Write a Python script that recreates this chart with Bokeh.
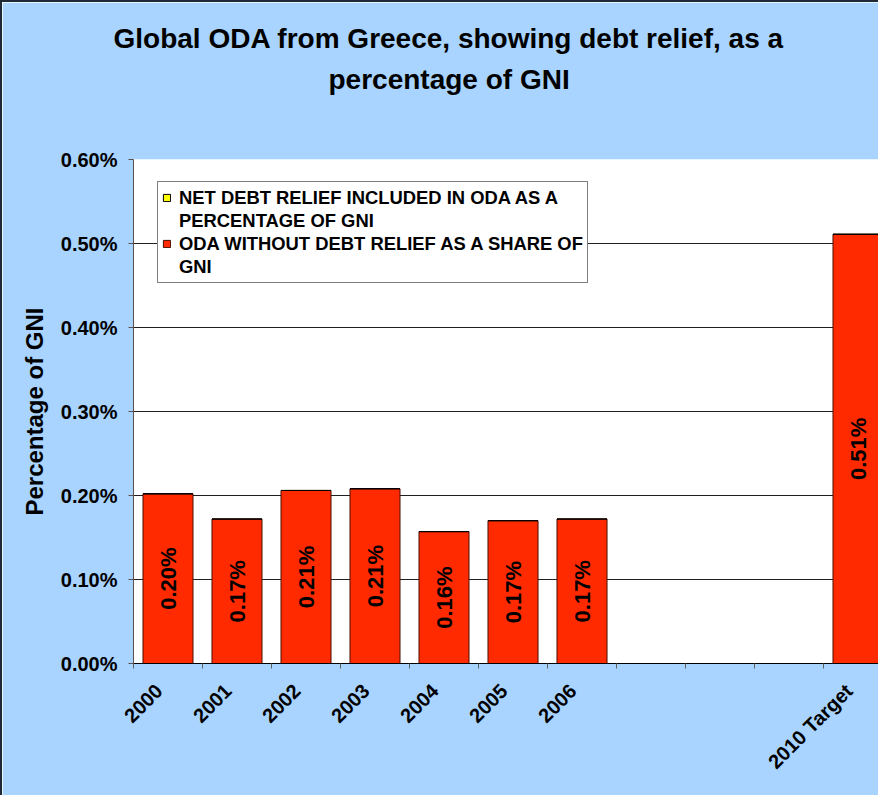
import math
from bokeh.plotting import figure
from bokeh.models import (ColumnDataSource, FixedTicker, Legend, LegendItem, Title,
                          PrintfTickFormatter)
from bokeh.embed import file_html
from bokeh.resources import INLINE
from bokeh.core.properties import value

# ---- data ----
categories = ["2000", "2001", "2002", "2003", "2004", "2005", "2006", "", "", "", "2010 Target"]
oda_without_debt_relief = [0.202, 0.172, 0.206, 0.208, 0.157, 0.170, 0.172, None, None, None, 0.511]
net_debt_relief = [0.0, 0.0, 0.0, 0.0, 0.0, 0.0, 0.0, None, None, None, 0.0]
y_ticks = [0.0, 0.1, 0.2, 0.3, 0.4, 0.5, 0.6]

title_line1 = "Global ODA from Greece, showing debt relief, as a"
title_line2 = "percentage of GNI"
# legend labels, as wrapped in the reference (first line, continuation line)
series_names = [("NET DEBT RELIEF INCLUDED IN ODA AS A", "PERCENTAGE OF GNI"),
                ("ODA WITHOUT DEBT RELIEF AS A SHARE OF", "GNI")]

FONT = "Liberation Sans"
BG = "#A8D4FF"
RED = "#FF2A00"
YELLOW = "#FFFF00"

# ---- build sources ----
xs, base, tops, labels = [], [], [], []
for i, (c, v, d) in enumerate(zip(categories, oda_without_debt_relief, net_debt_relief)):
    if v is None:
        continue
    xs.append(i + 0.5)
    base.append(v)
    tops.append(v + d)
    labels.append(f"{v:.2f}%")
src = ColumnDataSource(dict(x=xs, oda=base, total=tops, mid=[b / 2 for b in base], label=labels))

n_cat = len(categories)
p = figure(width=878, height=795, output_backend="svg", toolbar_location=None,
           x_range=(0, 10.826), y_range=(0, 0.6), title=None,
           min_border_left=131, min_border_top=157, min_border_bottom=134, min_border_right=0)
p.styles = {"border-top": "2px solid #1E2A36", "border-left": "2px solid #1E2A36"}
p.background_fill_color = "white"
p.border_fill_color = BG
p.outline_line_color = None

r_red = p.vbar(x="x", bottom=0, top="oda", width=0.725, source=src,
               fill_color=RED, line_color="#4A0E00", line_width=1)
r_yel = p.vbar(x="x", bottom="oda", top="total", width=0.725, source=src,
               fill_color=YELLOW, line_color="#000000", line_width=1)
# invisible renderer used for the wrapped second line of each legend entry
r_blank = p.vbar(x="x", top="top", width=0.7, source=ColumnDataSource(dict(x=[], top=[])),
                 fill_alpha=0, line_alpha=0)

p.text(x="x", y="mid", text="label", source=src, angle=math.pi / 2,
       text_align="center", text_baseline="middle",
       text_font=value(FONT), text_font_style="bold", text_font_size="22px",
       text_color="black")

# ---- axes ----
yax = p.yaxis[0]
yax.ticker = FixedTicker(ticks=y_ticks)
yax.formatter = PrintfTickFormatter(format="%.2f%%")
yax.major_label_text_font = FONT
yax.major_label_text_font_style = "bold"
yax.major_label_text_font_size = "20px"
yax.major_label_text_color = "black"
yax.major_tick_out = 5
yax.major_tick_in = 0
yax.minor_tick_line_color = None
yax.major_label_standoff = 11
yax.axis_line_color = "#5A5050"
yax.major_tick_line_color = "#5A5050"
yax.axis_label = "Percentage of GNI"
yax.axis_label_text_font = FONT
yax.axis_label_text_font_style = "bold"
yax.axis_label_text_font_size = "24px"
yax.axis_label_text_color = "black"
yax.axis_label_standoff = 10

# rotated category labels end slightly left of the category centre, as in the reference
LABEL_SHIFT = 0.13
xax = p.xaxis[0]
label_pos = [i + 0.5 - LABEL_SHIFT for i, c in enumerate(categories) if c]
xax.ticker = FixedTicker(ticks=label_pos, minor_ticks=list(range(0, n_cat)))
xax.major_label_overrides = {i + 0.5 - LABEL_SHIFT: c for i, c in enumerate(categories) if c}
xax.major_tick_line_color = None
xax.minor_tick_line_color = "#606060"
xax.minor_tick_out = 5
xax.minor_tick_in = 0
xax.major_label_orientation = math.pi / 4
xax.major_label_text_font = FONT
xax.major_label_text_font_style = "bold"
xax.major_label_text_font_size = "20px"
xax.major_label_text_color = "black"
xax.major_label_standoff = 18
xax.axis_line_color = "black"

p.xgrid.grid_line_color = None
p.ygrid.ticker = FixedTicker(ticks=y_ticks)
p.ygrid.grid_line_color = "#202020"
p.ygrid.grid_line_width = 1

# ---- title (stacked outward from the plot: spacer, line 2, line 1) ----
p.add_layout(Title(text=" ", text_font=FONT, text_font_size="27px", standoff=29,
                   text_color=BG), "above")
p.add_layout(Title(text=title_line2, align="left", offset=195, standoff=8,
                   text_font=FONT, text_font_style="bold", text_font_size="28px",
                   text_color="black"), "above")
p.add_layout(Title(text=title_line1, align="left", offset=-20, standoff=8,
                   text_font=FONT, text_font_style="bold", text_font_size="28px",
                   text_color="black"), "above")

# ---- legend ----
legend = Legend(items=[LegendItem(label=series_names[0][0], renderers=[r_yel]),
                       LegendItem(label=series_names[0][1], renderers=[r_blank]),
                       LegendItem(label=series_names[1][0], renderers=[r_red]),
                       LegendItem(label=series_names[1][1], renderers=[r_blank])],
                location=(24, 380))
legend.border_line_color = "black"
legend.border_line_width = 1
legend.background_fill_color = "white"
legend.background_fill_alpha = 1
legend.label_text_font = FONT
legend.label_text_font_style = "bold"
legend.label_text_font_size = "18.4px"
legend.label_text_color = "black"
legend.label_height = 23
legend.glyph_width = 9
legend.glyph_height = 9
legend.label_standoff = 8
legend.padding = 4
legend.spacing = 0
legend.margin = 0
p.add_layout(legend)

open("out.html", "w").write(file_html(p, INLINE))
